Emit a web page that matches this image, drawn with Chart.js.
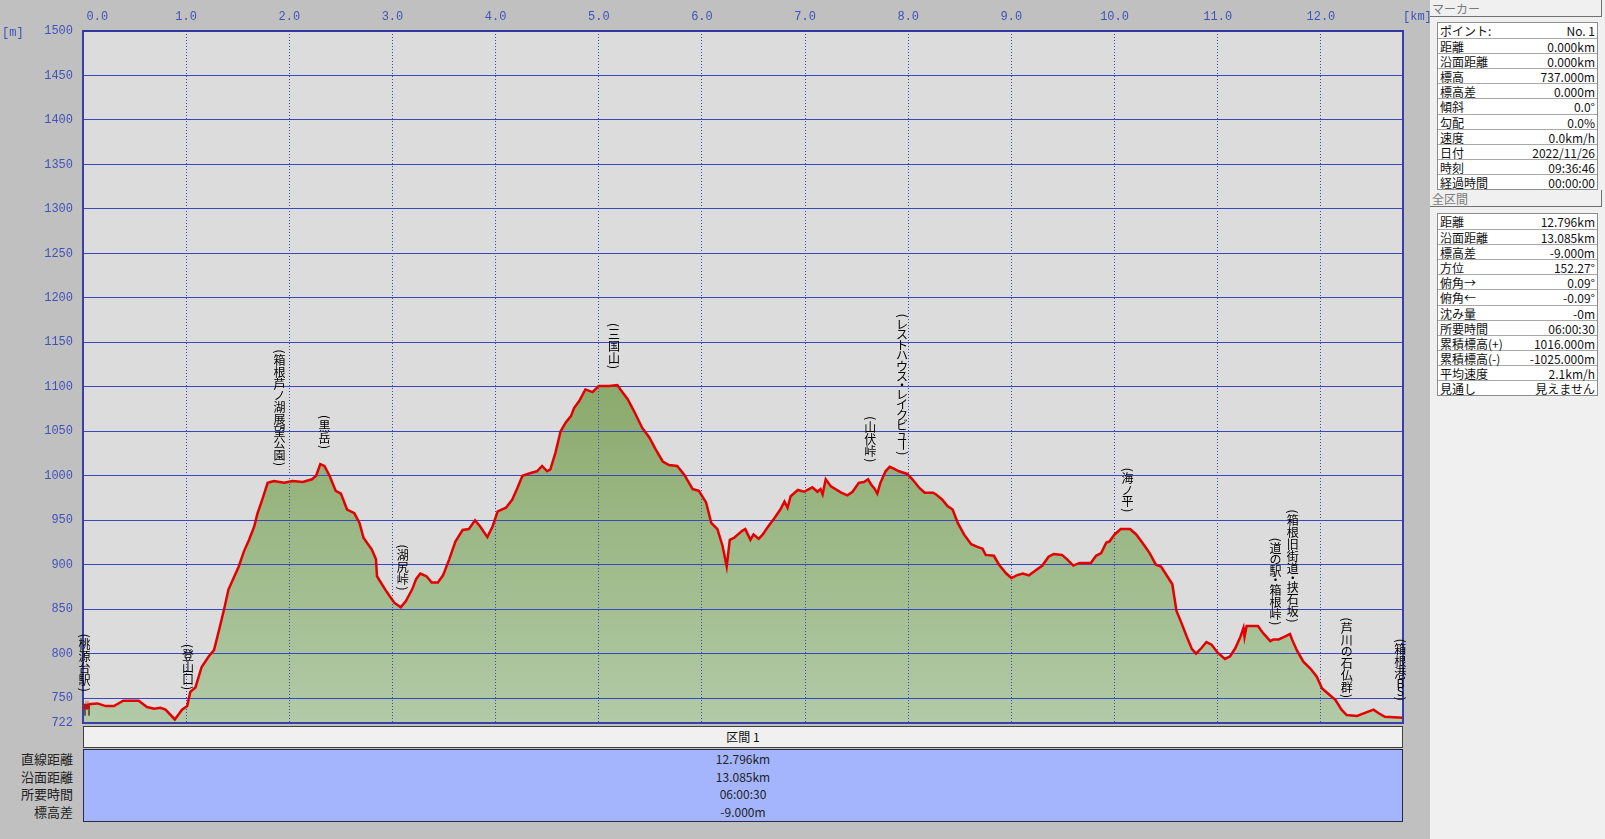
<!DOCTYPE html>
<html>
<head>
<meta charset="utf-8">
<script src="https://cdn.jsdelivr.net/npm/chart.js@4.4.1/dist/chart.umd.min.js"></script>
<style>
  body { margin:0; width:1605px; height:839px; background:#c0c0c0; overflow:hidden; position:relative;
         font-family:"Noto Sans CJK JP", sans-serif; font-size:12px; }
  #c { position:absolute; left:0; top:0; }
  .panel { position:absolute; left:1430px; top:0; width:175px; height:839px; background:#f0f0f0; }
  .hdr { position:absolute; left:1430px; width:172px; height:17px; line-height:17px; background:#f0f0f0;
         border-right:1px solid #707070; border-bottom:1px solid #707070; color:#7a7a7a; padding-left:2px;
         box-sizing:border-box; }
  .tbl { position:absolute; left:1437px; width:161px; border:1px solid #8c8c8c; background:#fff; box-sizing:border-box; }
  .tbl div { display:flex; justify-content:space-between; height:15.1px; line-height:15px; border-top:1px solid #a8a8a8;
             box-sizing:border-box; padding:0 2px 0 2px; color:#111; white-space:nowrap; }
  .tbl div:first-child { border-top:none; }
  .sec { position:absolute; left:83px; width:1320px; box-sizing:border-box; }
  #secHead { top:726px; height:22px; line-height:20px; background:#f0f0f0; border:1px solid #404040;
             text-align:center; color:#111; }
  #secBody { top:749px; height:73px; background:#a4b5fe; border:1px solid #2a2a48; }
  #secBody div, #secLabels div { height:17.6px; line-height:17.6px; color:#222; }
  #secBody div { text-align:center; }
  #secLabels { position:absolute; left:0; top:750px; width:73px; text-align:right; font-size:13px; }
</style>
</head>
<body>
<canvas id="c" width="1430" height="730"></canvas>
<div class="panel"></div>
<div class="hdr" style="top:0">マーカー</div>
<div class="tbl" id="markerTbl" style="top:22px"></div>
<div class="hdr" style="top:190px">全区間</div>
<div class="tbl" id="totalTbl" style="top:213px"></div>
<div class="sec" id="secHead"></div>
<div class="sec" id="secBody"></div>
<div id="secLabels"></div>
<script>
// elevation profile (km, m)
const distKm = [0.00,0.05,0.14,0.22,0.30,0.39,0.54,0.62,0.69,0.75,0.80,0.89,0.96,1.01,1.04,1.09,1.15,1.22,1.27,1.32,
  1.37,1.41,1.46,1.51,1.56,1.61,1.66,1.69,1.74,1.79,1.85,1.95,2.03,2.13,2.22,2.26,2.30,2.34,2.39,2.45,
  2.50,2.56,2.63,2.68,2.72,2.80,2.84,2.85,2.93,2.97,3.02,3.08,3.13,3.19,3.23,3.27,3.33,3.38,3.44,3.49,
  3.55,3.61,3.68,3.74,3.80,3.85,3.92,3.97,4.02,4.10,4.16,4.21,4.26,4.34,4.40,4.45,4.50,4.53,4.58,4.63,
  4.68,4.73,4.76,4.81,4.87,4.94,5.00,5.10,5.18,5.21,5.28,5.34,5.42,5.49,5.55,5.62,5.68,5.76,5.83,5.91,
  5.97,6.04,6.09,6.15,6.20,6.24,6.27,6.31,6.39,6.42,6.47,6.50,6.55,6.59,6.63,6.70,6.76,6.80,6.83,6.86,
  6.93,6.99,7.07,7.12,7.15,7.17,7.20,7.25,7.35,7.41,7.46,7.52,7.57,7.61,7.64,7.67,7.70,7.73,7.78,7.82,
  7.86,7.91,7.99,8.04,8.11,8.16,8.24,8.27,8.33,8.38,8.43,8.48,8.54,8.61,8.67,8.72,8.75,8.83,8.88,8.95,
  9.00,9.05,9.11,9.17,9.24,9.30,9.36,9.41,9.49,9.54,9.60,9.66,9.77,9.82,9.87,9.92,9.95,10.00,10.06,10.15,
  10.21,10.28,10.34,10.40,10.45,10.50,10.56,10.60,10.65,10.70,10.75,10.79,10.84,10.89,10.94,11.00,11.07,11.12,11.17,11.22,
  11.25,11.26,11.28,11.35,11.39,11.44,11.51,11.54,11.59,11.65,11.70,11.72,11.77,11.83,11.90,11.96,12.01,12.06,12.14,12.20,
  12.25,12.35,12.44,12.51,12.56,12.62,12.796];
const elevM = [737,743,744,741,741,747,747,740,738,739,737,726,737,741,757,762,785,797,804,827,
  851,872,885,898,915,928,943,957,974,992,994,992,994,993,996,1000,1013,1011,1000,983,
  980,962,958,947,930,917,906,887,872,865,857,852,859,872,884,890,887,880,880,888,
  906,926,939,940,950,943,931,943,960,964,973,986,1000,1003,1005,1011,1005,1007,1026,1050,
  1060,1067,1076,1084,1097,1094,1101,1101,1102,1097,1086,1073,1054,1043,1030,1016,1012,1011,1001,985,
  983,970,947,940,921,898,928,930,938,940,928,934,929,934,941,952,962,971,964,977,
  984,982,987,982,985,979,996,988,981,978,982,992,993,996,990,986,980,992,1005,1010,
  1008,1005,1002,996,986,981,981,979,973,966,962,947,934,923,920,918,911,910,900,890,
  885,888,890,888,894,899,909,912,911,906,899,902,902,910,913,925,926,934,940,940,
  934,923,913,900,898,889,878,848,834,819,805,800,806,813,810,801,794,797,806,819,
  829,819,831,831,831,823,814,816,816,819,822,816,803,791,783,774,761,756,748,737,
  731,730,734,737,733,729,728];

const xTicks = [0,1,2,3,4,5,6,7,8,9,10,11,12];
const yTicks = [722,750,800,850,900,950,1000,1050,1100,1150,1200,1250,1300,1350,1400,1450,1500];

// waypoints
const wpNames = ['(桃源台駅)','(登山口)','(箱根芦ノ湖展望公園)','(黒岳)','(湖尻峠)','(三国山)','(山伏峠)',
  '(レストハウス・レイクビュー)','(海ノ平)','(道の駅・箱根峠)','(箱根旧街道・挟石坂)','(芦川の石仏群)','(箱根港BS)'];
const wpKm = [0.015,1.017,1.904,2.341,3.10,5.148,7.632,7.94,10.126,11.56,11.727,12.25,12.77];
const wpElev = [739,741,993,1012,853,1102,997,1005,941,814,817,732,729];

// side panels
const markerLabels = ['ポイント:','距離','沿面距離','標高','標高差','傾斜','勾配','速度','日付','時刻','経過時間'];
const markerValues = ['No. 1','0.000km','0.000km','737.000m','0.000m','0.0°','0.0%','0.0km/h','2022/11/26','09:36:46','00:00:00'];
const totalLabels = ['距離','沿面距離','標高差','方位','俯角→','俯角←','沈み量','所要時間','累積標高(+)','累積標高(-)','平均速度','見通し'];
const totalValues = ['12.796km','13.085km','-9.000m','152.27°','0.09°','-0.09°','-0m','06:00:30','1016.000m','-1025.000m','2.1km/h','見えません'];
const sectionName = '区間 1';
const sectionLabels = ['直線距離','沿面距離','所要時間','標高差'];
const sectionValues = ['12.796km','13.085km','06:00:30','-9.000m'];

function fillTable(id, labels, values) {
  const el = document.getElementById(id);
  labels.forEach((l, i) => {
    const row = document.createElement('div');
    row.innerHTML = '<span>' + l + '</span><span>' + values[i] + '</span>';
    el.appendChild(row);
  });
}
fillTable('markerTbl', markerLabels, markerValues);
fillTable('totalTbl', totalLabels, totalValues);
document.getElementById('secHead').textContent = sectionName;
sectionValues.forEach(v => {
  const d = document.createElement('div'); d.textContent = v;
  document.getElementById('secBody').appendChild(d);
});
sectionLabels.forEach(v => {
  const d = document.createElement('div'); d.textContent = v;
  document.getElementById('secLabels').appendChild(d);
});

const points = distKm.map((x, i) => ({ x, y: elevM[i] }));
const axisBlue = '#4252b8';

function charStep(ch) {
  if (ch === '(' || ch === ')') return 6;
  if (ch === '・') return 7;
  if ('ュャョッ'.includes(ch)) return 9;
  if (/[\u3040-\u30ff]/.test(ch)) return 10.5;
  if (/[A-Za-z]/.test(ch)) return 8;
  return 12;
}

function drawVertical(ctx, text, cx, bottom) {
  const chars = [...text];
  const steps = chars.map(charStep);
  let y = bottom - steps.reduce((a, b) => a + b, 0);
  chars.forEach((ch, i) => {
    const cy = y + steps[i] / 2;
    if (ch === '(' || ch === ')' || ch === 'ー') {
      ctx.save();
      ctx.translate(cx, cy);
      ctx.rotate(Math.PI / 2);
      ctx.fillText(ch, 0, 0);
      ctx.restore();
    } else {
      ctx.fillText(ch, cx, cy);
    }
    y += steps[i];
  });
}

const profilePlugin = {
  id: 'profile',
  beforeDraw(chart) {
    const a = chart.chartArea;
    chart.ctx.save();
    chart.ctx.fillStyle = '#dcdcdc';
    chart.ctx.fillRect(a.left, a.top, a.right - a.left, a.bottom - a.top);
    chart.ctx.restore();
  },
  beforeDatasetDraw(chart, args) {
    // grid goes over the fill but under the red line
    if (args.index === 0) {
      chart.scales.x.drawGrid(chart.chartArea);
      chart.scales.y.drawGrid(chart.chartArea);
    }
  },
  afterDraw(chart) {
    const ctx = chart.ctx;
    const a = chart.chartArea;
    const xs = chart.scales.x, ys = chart.scales.y;
    ctx.save();
    // frame
    ctx.strokeStyle = '#3840a8';
    ctx.lineWidth = 2;
    ctx.strokeRect(a.left, a.top, a.right - a.left, a.bottom - a.top);
    ctx.fillStyle = '#3038a0';
    ctx.fillRect(a.left, a.top - 1, a.right - a.left, 2);

    // unit labels
    ctx.fillStyle = axisBlue;
    ctx.font = '12px "Liberation Mono", monospace';
    ctx.textBaseline = 'middle';
    ctx.textAlign = 'left';
    ctx.fillText('[m]', 2, 33);
    ctx.fillText('[km]', 1403, 17);

    // waypoint labels
    ctx.fillStyle = '#000';
    ctx.font = '12px "Noto Sans CJK JP"';
    ctx.textAlign = 'center';
    ctx.textBaseline = 'middle';
    wpNames.forEach((n, i) => {
      drawVertical(ctx, n, xs.getPixelForValue(wpKm[i]), ys.getPixelForValue(wpElev[i]) - 15);
    });

    // hiker at the start point
    const hx = xs.getPixelForValue(distKm[0]) + 2, hy = ys.getPixelForValue(elevM[0]);
    ctx.fillStyle = '#e0a070';
    ctx.fillRect(hx, hy - 9, 4, 3);
    ctx.fillStyle = '#b01818';
    ctx.fillRect(hx - 2, hy - 6, 7, 6);
    ctx.fillStyle = '#6a5a40';
    ctx.fillRect(hx - 1, hy, 2, 6);
    ctx.fillRect(hx + 3, hy, 2, 6);
    ctx.restore();
  }
};

new Chart(document.getElementById('c'), {
  type: 'line',
  data: {
    datasets: [
      {
        data: points,
        borderColor: '#e40000',
        borderWidth: 2.5,
        pointRadius: 0,
        fill: false,
        tension: 0
      },
      {
        data: points,
        borderWidth: 0,
        pointRadius: 0,
        fill: 'start',
        tension: 0,
        backgroundColor: ctx => {
          const chart = ctx.chart;
          const a = chart.chartArea;
          if (!a) return '#a0bc88';
          const top = chart.scales.y.getPixelForValue(1100);
          const g = chart.ctx.createLinearGradient(0, top, 0, a.bottom);
          g.addColorStop(0, '#8baa6c');
          g.addColorStop(1, '#b2caa7');
          return g;
        }
      }
    ]
  },
  options: {
    responsive: false,
    devicePixelRatio: 1,
    animation: false,
    layout: { padding: { left: 0, right: 27, top: 0, bottom: 7 } },
    plugins: { legend: { display: false }, tooltip: { enabled: false } },
    scales: {
      x: {
        type: 'linear',
        position: 'top',
        min: 0,
        max: 12.796,
        afterBuildTicks: s => { s.ticks = xTicks.map(v => ({ value: v })); },
        afterFit: s => { s.height = 31; s.paddingLeft = 0; s.paddingRight = 0; },
        ticks: {
          color: axisBlue,
          font: { family: '"Liberation Mono", monospace', size: 12 },
          padding: 7,
          maxRotation: 0,
          autoSkip: false,
          callback: v => (v === 0 ? '    ' : '') + v.toFixed(1)
        },
        grid: { color: '#3a48b8', lineWidth: 1, drawTicks: false },
        border: { display: false, dash: [1, 2] }
      },
      y: {
        min: 722,
        max: 1500,
        afterBuildTicks: s => { s.ticks = yTicks.map(v => ({ value: v })); },
        afterFit: s => { s.width = 83; s.paddingTop = 0; s.paddingBottom = 0; },
        ticks: {
          color: axisBlue,
          font: { family: '"Liberation Mono", monospace', size: 12 },
          padding: 10,
          autoSkip: false,
          callback: v => String(v)
        },
        grid: { color: '#3a48c0', lineWidth: 1, drawTicks: false },
        border: { display: false }
      }
    }
  },
  plugins: [profilePlugin]
});
</script>
</body>
</html>
